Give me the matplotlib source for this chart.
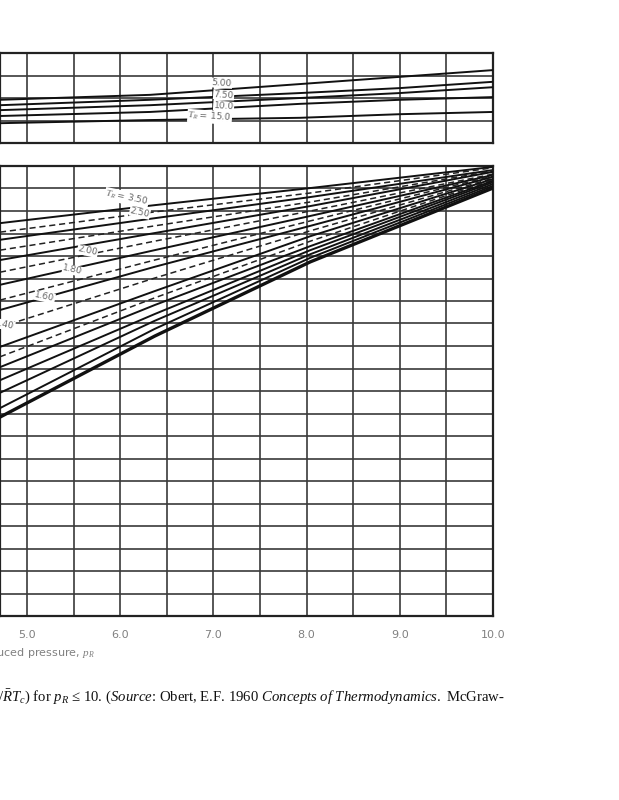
import matplotlib
matplotlib.use("Agg")
import matplotlib.pyplot as plt
import numpy as np

plt.rcParams['mathtext.fontset'] = 'custom'
plt.rcParams['mathtext.rm'] = 'Liberation Serif'
plt.rcParams['mathtext.it'] = 'Liberation Serif:italic'

# ---- data (Z = compressibility factor) ----
# upper inset, high reduced temperatures
pr_upper = [4.71, 6.32, 7.93, 9.00, 10.0]
z_upper = [
    [1.096, 1.107, 1.131, 1.147, 1.162],
    [1.084, 1.096, 1.111, 1.122, 1.136],
    [1.073, 1.084, 1.100, 1.111, 1.124],
    [1.060, 1.069, 1.087, 1.096, 1.102],
    [1.044, 1.051, 1.056, 1.064, 1.069],
]
labels_upper = ["5.00", "7.50", "10.0", "$T_R$ = 15.0"]
labels_upper_pos = [(7.09, 1.133), (7.11, 1.107), (7.11, 1.082), (6.96, 1.058)]

# main panel
pr_lower = [4.71, 6.37, 8.04, 10.0]
z_lower = [
    [1.073, 1.113, 1.151, 1.198],
    [1.053, 1.098, 1.140, 1.196],
    [1.036, 1.084, 1.131, 1.191],
    [1.013, 1.067, 1.120, 1.189],
    [0.991, 1.051, 1.111, 1.187],
    [0.964, 1.033, 1.100, 1.182],
    [0.936, 1.013, 1.089, 1.180],
    [0.902, 0.991, 1.078, 1.178],
    [0.880, 0.976, 1.067, 1.176],
    [0.842, 0.951, 1.056, 1.173],
    [0.798, 0.922, 1.044, 1.171],
    [0.776, 0.907, 1.033, 1.169],
    [0.753, 0.891, 1.022, 1.167],
    [0.724, 0.871, 1.013, 1.164],
    [0.696, 0.856, 1.004, 1.160],
    [0.662, 0.838, 0.996, 1.156],
    [0.642, 0.822, 0.987, 1.151],
]
dashed_lower = [False, True, False, True, False, True, False, True, False,
                True, False, True, False, False, False, False, False]
labels_lower = ["$T_R$ = 3.50", "2.50", "2.00", "1.80", "1.60", "1.40"]
labels_lower_pos = [(6.07, 1.129), (6.21, 1.096), (5.65, 1.011),
                    (5.49, 0.969), (5.19, 0.909), (4.76, 0.847)]

xticks = [5.0, 6.0, 7.0, 8.0, 9.0, 10.0]

W, H = 619, 800
fig = plt.figure(figsize=(W / 100, H / 100), dpi=100)
fig.patch.set_facecolor('white')

def frac_box(x0, y0, x1, y1):
    # pixel box (top-left origin) -> figure fraction
    return [x0 / W, 1 - y1 / H, (x1 - x0) / W, (y1 - y0) / H]

ax_up = fig.add_axes(frac_box(0, 53, 493, 143))
ax_lo = fig.add_axes(frac_box(0, 166, 493, 616))

grid_kw = dict(color='#3a3a3a', linewidth=1.2)

for ax, ylo, yhi, n in [(ax_up, 1.00, 1.20, 4), (ax_lo, 0.20, 1.20, 20)]:
    ax.set_xlim(4.71, 10.0)
    ax.set_ylim(ylo, yhi)
    for xv in np.arange(5.0, 10.0, 0.5):
        ax.axvline(xv, zorder=1, **grid_kw)
    for yv in np.linspace(ylo, yhi, n + 1)[1:-1]:
        ax.axhline(yv, zorder=1, **grid_kw)
    for s in ax.spines.values():
        s.set_linewidth(1.6)
        s.set_color('#222222')
    ax.set_yticks([])
    ax.tick_params(length=0)

ax_up.set_xticks([])

for zz in z_upper:
    ax_up.plot(pr_upper, zz, color='#111111', lw=1.4, zorder=3)
for txt, (px, pz) in zip(labels_upper, labels_upper_pos):
    ax_up.text(px, pz, txt, fontsize=6.5, color='#666666', ha='center', va='center',
               rotation=-4, zorder=4,
               bbox=dict(facecolor='white', edgecolor='none', pad=0.3))

for i, zz in enumerate(z_lower):
    if dashed_lower[i]:
        ax_lo.plot(pr_lower, zz, color='#222222', lw=1.1, ls=(0, (4, 2.5)), zorder=3)
    else:
        lw = 2.4 if i == len(z_lower) - 1 else 1.4
        ax_lo.plot(pr_lower, zz, color='#111111', lw=lw, zorder=3)
for txt, (px, pz) in zip(labels_lower, labels_lower_pos):
    ax_lo.text(px, pz, txt, fontsize=6.5, color='#666666', ha='center', va='center',
               rotation=-12, zorder=4,
               bbox=dict(facecolor='white', edgecolor='none', pad=0.3))

ax_lo.set_xticks(xticks)
ax_lo.set_xticklabels([f"{v:.1f}" for v in xticks], fontsize=8, color='#808080')
ax_lo.tick_params(axis='x', pad=10)

fig.text(95 / W, 1 - 653 / H, "Reduced pressure, $p_R$", ha='right', va='center',
         fontsize=8, color='#808080')

caption = (r"/$\bar{R}T_c$) for $p_R$ ≤ 10. ($\mathit{Source}$: Obert, E.F. 1960 "
           r"$\mathit{Concepts\ of\ Thermodynamics.}$ McGraw-")
fig.text(-2 / W, 1 - 697 / H, caption, ha='left', va='center', fontsize=10.6,
         family='Liberation Serif', color='#111111')

fig.savefig('out.png', dpi=100)
